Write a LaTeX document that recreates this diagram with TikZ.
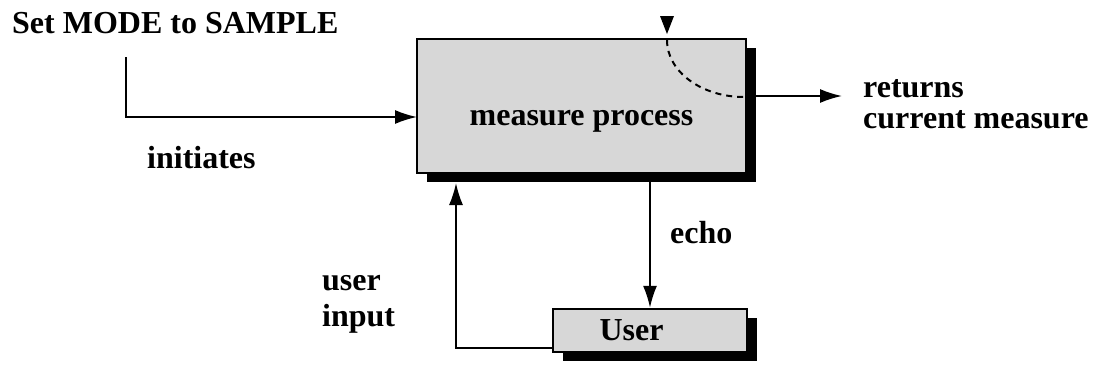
\documentclass[tikz,border=0pt]{standalone}
\usepackage{fontspec}
\setmainfont{Liberation Serif}
\usetikzlibrary{shadows,arrows.meta,calc}
\definecolor{boxgray}{RGB}{215,215,215}
\begin{document}
\begin{tikzpicture}[x=1pt,y=-1pt,
  lbl/.style={anchor=base west,inner sep=0pt,font=\fontsize{32}{34}\selectfont\bfseries},
  procbox/.style={draw,line width=2.4pt,fill=boxgray,inner sep=0pt,
    font=\fontsize{32}{34}\selectfont\bfseries,
    drop shadow={shadow xshift=10pt,shadow yshift=-9pt,fill=black,opacity=1}},
  arr/.style={line width=1.8pt,-{Latex[length=22pt,width=14pt]}},
  conn/.style={line width=1.8pt}]
\useasboundingbox (0,0) rectangle (1096,367);
\node[procbox,minimum width=329pt,minimum height=134pt,text height=40pt,text depth=2pt] (mp) at (581.5,106) {measure process};
\node[procbox,minimum width=194pt,minimum height=43pt,text height=21pt,text depth=2pt] (us) at (650,330.5) {User\hspace*{37pt}};
\node[lbl] (set) at (12,33) {Set MODE to SAMPLE};
\node[lbl] (init) at (147,168) {initiates};
\node[lbl] (ret1) at (863,97) {returns};
\node[lbl] (ret2) at (863,128) {current measure};
\node[lbl] (ui1) at (322,290) {user};
\node[lbl] (ui2) at (322,326) {input};
\node[lbl] (echo) at (670,243) {echo};
\coordinate (c1) at (126,57);
\coordinate (inend) at (417,117);
\coordinate (outend) at (842,96);
\coordinate (uitop) at (456,183);
\coordinate (uistart) at (553,348);
\draw[arr] (c1) |- (inend);
\draw[arr] (mp.east |- outend) -- (outend);
\draw[arr] (us.north |- mp.south) -- (us.north);
\draw[arr] (uistart) -| (uitop);
\draw[line width=2pt,dash pattern=on 6pt off 5pt] (667,40) .. controls (667,72) and (702,97) .. (744,97);
\fill (660,16) -- (674,16) -- (667,34) -- cycle;
\end{tikzpicture}
\end{document}
